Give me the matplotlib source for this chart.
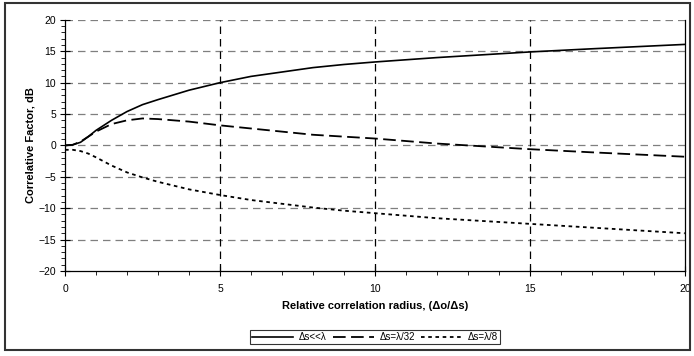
import matplotlib
matplotlib.use("Agg")
import matplotlib.pyplot as plt
from matplotlib.patches import Rectangle
from matplotlib.ticker import MultipleLocator

plt.rcParams["font.family"] = ["Liberation Sans", "DejaVu Sans"]

# radius values (Δo/Δs)
x_vals = [0, 0.25, 0.5, 0.75, 1, 1.5, 2, 2.5, 3, 4, 5, 6, 7, 8, 9, 10, 12, 14, 15, 17, 20]
# Δs<<λ
solid = [0, 0.1, 0.5, 1.4, 2.4, 4.0, 5.4, 6.5, 7.3, 8.8, 10.0, 11.0, 11.7, 12.4, 12.9,
         13.3, 14.0, 14.6, 14.9, 15.4, 16.1]
# Δs=λ/32
dash32 = [0, 0.1, 0.6, 1.4, 2.2, 3.4, 4.0, 4.3, 4.2, 3.8, 3.2, 2.7, 2.2, 1.7, 1.4,
          1.1, 0.3, -0.3, -0.6, -1.1, -1.8]
# Δs=λ/8
dot8 = [-0.7, -0.7, -0.9, -1.3, -1.9, -3.2, -4.3, -5.1, -5.8, -7.0, -7.9, -8.7, -9.3,
        -9.9, -10.4, -10.8, -11.6, -12.2, -12.5, -13.1, -14.0]
labels = ["Δs<<λ", "Δs=λ/32", "Δs=λ/8"]

fig = plt.figure(figsize=(6.94, 3.56), dpi=100)
ax = fig.add_axes([0.0937, 0.239, 0.893, 0.705])

ax.plot(x_vals, solid, color="black", lw=1.2, linestyle="-", label=labels[0])
ax.plot(x_vals, dash32, color="black", lw=1.3, linestyle=(0, (7, 3)), label=labels[1])
ax.plot(x_vals, dot8, color="black", lw=1.3, linestyle=(0, (2, 2)), label=labels[2])

ax.set_xlim(0, 20)
ax.set_ylim(-20, 20)
ax.xaxis.set_major_locator(MultipleLocator(5))
ax.xaxis.set_minor_locator(MultipleLocator(1))
ax.yaxis.set_major_locator(MultipleLocator(5))
ax.yaxis.set_minor_locator(MultipleLocator(1))
ax.tick_params(axis="both", which="major", direction="inout", length=7, width=0.8,
               labelsize=7.5, colors="black")
ax.tick_params(axis="both", which="minor", direction="out", length=3, width=0.6)
ax.tick_params(axis="x", pad=6)
ax.tick_params(axis="y", pad=3)

for yv in range(-15, 25, 5):
    ax.axhline(yv, color="#7f7f7f", lw=0.9, linestyle=(0, (6, 4)), zorder=0.5)
for xv in (5, 10, 15):
    ax.axvline(xv, color="black", lw=0.9, linestyle=(0, (6, 4)), zorder=0.5)

ax.spines["top"].set_visible(False)
for s in ("left", "bottom", "right"):
    ax.spines[s].set_linewidth(0.9)

ax.set_xlabel("Relative correlation radius, (Δo/Δs)", fontsize=8, fontweight="bold",
              labelpad=5)
ax.set_ylabel("Correlative Factor, dB", fontsize=8, fontweight="bold", labelpad=2)

leg = fig.legend(loc="center", bbox_to_anchor=(375 / 694, 1 - 337 / 356), ncol=3,
                 fontsize=7, frameon=True, fancybox=False, edgecolor="black",
                 handlelength=4.2, columnspacing=0.6, handletextpad=0.6,
                 borderpad=0.25, borderaxespad=0)
leg.get_frame().set_linewidth(0.8)

fig.patches.append(Rectangle((5 / 694, 6 / 356), 685 / 694, 347 / 356,
                             transform=fig.transFigure, fill=False,
                             edgecolor="#333333", lw=1.5))

fig.savefig("out.png", dpi=100)
